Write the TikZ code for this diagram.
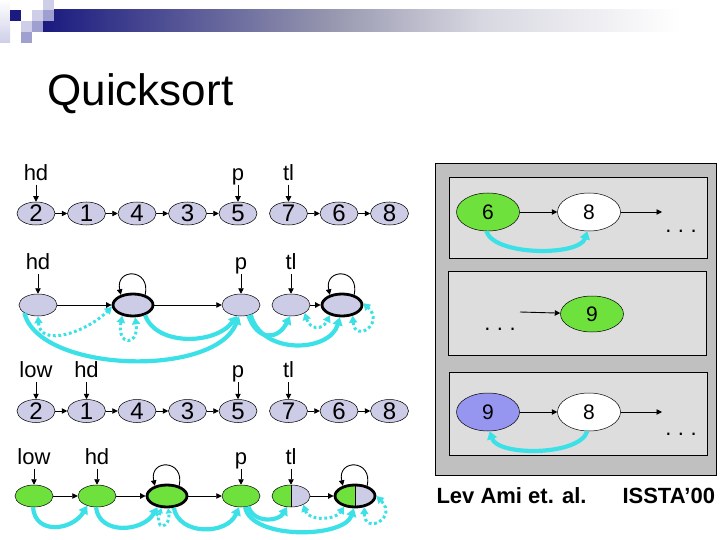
\documentclass[tikz,border=0pt]{standalone}
\usepackage{fontspec}
\setmainfont{Liberation Sans}
\usepackage{tikz}
\usetikzlibrary{shapes.geometric, arrows.meta, positioning}
\definecolor{navyhead}{RGB}{26, 26, 128}
\definecolor{headgray}{RGB}{150, 150, 175}
\definecolor{headpale}{RGB}{215, 215, 225}
\definecolor{squarelight}{RGB}{206, 206, 232}
\definecolor{squaremid}{RGB}{160, 160, 208}
\definecolor{cellblue}{RGB}{204, 204, 230}
\definecolor{cellgreen}{RGB}{110, 225, 60}
\definecolor{sumblue}{RGB}{150, 150, 240}
\definecolor{edgecyan}{RGB}{60, 225, 232}
\definecolor{panelgray}{RGB}{192, 192, 192}
\definecolor{boxgray}{RGB}{221, 221, 221}

\begin{document}
\begin{tikzpicture}[
    x=1pt, y=-1pt,
    every node/.style={font=\fontsize{22}{26}\selectfont},
    cell/.style={
        ellipse,
        draw=black,
        line width=0.5pt,
        fill=cellblue,
        minimum width=38pt,
        minimum height=23pt,
        inner xsep=0pt,
        inner ysep=-3.5pt,
        font=\fontsize{24}{24}\selectfont
    },
    blank/.style={cell, minimum height=22pt},
    summary/.style={blank, line width=2.8pt, minimum width=40pt},
    halfgreen/.style={
        path picture={
            \fill[cellgreen] (path picture bounding box.south west) rectangle (path picture bounding box.north);
            \draw[line width=0.6pt] (path picture bounding box.south) -- (path picture bounding box.north);
        }
    },
    bigcell/.style={
        ellipse,
        draw=black,
        line width=0.5pt,
        fill=white,
        minimum width=63pt,
        minimum height=38pt,
        inner sep=0pt,
        font=\fontsize{21}{21}\selectfont
    },
    ptr/.style={inner sep=1pt, text height=16pt, text depth=3pt},
    dots/.style={inner sep=0pt},
    next/.style={line width=0.9pt, -{Triangle[length=5.5pt, width=5.5pt]}},
    must/.style={draw=edgecyan, line width=4.2pt, -{Triangle[length=8pt, width=10pt]}},
    may/.style={
        draw=edgecyan,
        line width=3pt,
        dash pattern=on 2.8pt off 2.6pt,
        {Triangle[length=7pt, width=8pt]}-{Triangle[length=7pt, width=8pt]}
    },
    tinymay/.style={may, {Triangle[length=5pt, width=6pt]}-{Triangle[length=5pt, width=6pt]}}
]
\useasboundingbox (0,0) rectangle (720,540);

% ==================== HEADER ====================
\shade[left color=navyhead, right color=headgray] (43,10) rectangle (330,32);
\shade[left color=headgray, right color=headpale] (329.5,10) rectangle (480,32);
\shade[left color=headpale, right color=white] (479.5,10) rectangle (680,32);
\shade[top color=white, bottom color=squarelight] (0,0) rectangle (10,43);
\fill[navyhead] (10,10) rectangle (21,21);
\fill[squarelight] (32,10) rectangle (43,21);
\fill[squarelight] (43,0) rectangle (54,10);
\fill[squaremid] (43,10) rectangle (54,21);
\fill[squarelight] (21,21) rectangle (32,32);
\fill[squaremid] (32,21) rectangle (43,32);
\fill[squaremid] (21,32) rectangle (32,43);

\node (title) [anchor=base west, font=\fontsize{44}{44}\selectfont] at (44,106) {Quicksort};

% ==================== ROW 1: CONCRETE LIST ====================
\node (a1) [cell] at (36,213.5) {2};
\node (a2) [cell, right=12pt of a1] {1};
\node (a3) [cell, right=12pt of a2] {4};
\node (a4) [cell, right=12pt of a3] {3};
\node (a5) [cell, right=12pt of a4] {5};
\node (a6) [cell, right=12pt of a5] {7};
\node (a7) [cell, right=12pt of a6] {6};
\node (a8) [cell, right=12pt of a7] {8};

\node (a_hd) [ptr, above=17pt of a1] {hd};
\node (a_p) [ptr, above=17pt of a5] {p};
\node (a_tl) [ptr, above=17pt of a6] {tl};

\draw [next] (a_hd) -- (a1);
\draw [next] (a_p) -- (a5);
\draw [next] (a_tl) -- (a6);
\draw [next] (a1) -- (a2);
\draw [next] (a2) -- (a3);
\draw [next] (a3) -- (a4);
\draw [next] (a4) -- (a5);
\draw [next] (a6) -- (a7);
\draw [next] (a7) -- (a8);

% ==================== ROW 2: SHAPE GRAPH ====================
\node (b1) [blank] at (38,305) {};
\node (b2) [summary] at (133,305) {};
\node (b3) [blank] at (241,305) {};
\node (b4) [blank] at (291,305) {};
\node (b5) [summary] at (342,305) {};

\node (b_hd) [ptr, above=20pt of b1] {hd};
\node (b_p) [ptr, above=20pt of b3] {p};
\node (b_tl) [ptr, above=20pt of b4] {tl};

\draw [next] (b_hd) -- (b1);
\draw [next] (b_p) -- (b3);
\draw [next] (b_tl) -- (b4);
\draw [next] (b1) -- (b2);
\draw [next] (b2) -- (b3);
\draw [next] (b4) -- (b5);
\draw [next] (b2.40) .. controls +(6,-27) and +(-6,-27) .. (b2.140);
\draw [next] (b5.40) .. controls +(6,-27) and +(-6,-27) .. (b5.140);

\draw [must] (b1.-150) .. controls +(15,60) and +(-24,62) .. (b3.-100);
\draw [must] (b2.-40) .. controls +(11,31) and +(-22,29) .. (b3.-110);
\draw [must] (b3.-55) .. controls +(9,26) and +(-12,24) .. (b4.-95);
\draw [must] (b3.-45) .. controls +(11,41) and +(-10,35) .. (b5.-100);
\draw [may] (b1.-90) .. controls +(2,32) and +(-25,25) .. (b2.185);
\draw [may] (b2.-135) .. controls +(-6,30) and +(4,30) .. (b2.-80);
\draw [may] (b4.-30) .. controls +(5,16) and +(-8,16) .. (b5.-140);
\draw [may] (b5.-45) .. controls +(2,28) and +(22,20) .. (b5.5);

% ==================== ROW 3: CONCRETE LIST ====================
\node (c1) [cell] at (36,411) {2};
\node (c2) [cell, right=12pt of c1] {1};
\node (c3) [cell, right=12pt of c2] {4};
\node (c4) [cell, right=12pt of c3] {3};
\node (c5) [cell, right=12pt of c4] {5};
\node (c6) [cell, right=12pt of c5] {7};
\node (c7) [cell, right=12pt of c6] {6};
\node (c8) [cell, right=12pt of c7] {8};

\node (c_low) [ptr, above=17.5pt of c1] {low};
\node (c_hd) [ptr, above=17.5pt of c2] {hd};
\node (c_p) [ptr, above=17.5pt of c5] {p};
\node (c_tl) [ptr, above=17.5pt of c6] {tl};

\draw [next] (c_low) -- (c1);
\draw [next] (c_hd) -- (c2);
\draw [next] (c_p) -- (c5);
\draw [next] (c_tl) -- (c6);
\draw [next] (c1) -- (c2);
\draw [next] (c2) -- (c3);
\draw [next] (c3) -- (c4);
\draw [next] (c4) -- (c5);
\draw [next] (c6) -- (c7);
\draw [next] (c7) -- (c8);

% ==================== ROW 4: SHAPE GRAPH ====================
\node (d1) [blank, fill=cellgreen] at (34,496) {};
\node (d2) [blank, fill=cellgreen] at (97,496) {};
\node (d3) [summary, fill=cellgreen] at (167,496) {};
\node (d4) [blank, fill=cellgreen] at (241,496) {};
\node (d5) [blank, halfgreen] at (291,496) {};
\node (d6) [summary, halfgreen] at (355,496) {};

\node (d_low) [ptr, above=16pt of d1] {low};
\node (d_hd) [ptr, above=16pt of d2] {hd};
\node (d_p) [ptr, above=16pt of d4] {p};
\node (d_tl) [ptr, above=16pt of d5] {tl};

\draw [next] (d_low) -- (d1);
\draw [next] (d_hd) -- (d2);
\draw [next] (d_p) -- (d4);
\draw [next] (d_tl) -- (d5);
\draw [next] (d1) -- (d2);
\draw [next] (d2) -- (d3);
\draw [next] (d3) -- (d4);
\draw [next] (d5) -- (d6);
\draw [next] (d3.40) .. controls +(6,-27) and +(-6,-27) .. (d3.140);
\draw [next] (d6.40) .. controls +(6,-27) and +(-6,-27) .. (d6.140);

\draw [must] (d1.-95) .. controls +(2,28) and +(-15,25) .. (d2.-135);
\draw [must] (d2.-95) .. controls +(3,28) and +(-15,25) .. (d3.-130);
\draw [must] (d3.-60) .. controls +(5,28) and +(-12,28) .. (d4.-100);
\draw [must] (d4.-55) .. controls +(6,18) and +(-8,14) .. (d5.-110);
\draw [must] (d4.-70) .. controls +(6,33) and +(-10,30) .. (d6.-95);
\draw [tinymay] (d3.-115) .. controls +(-8,24) and +(3,20) .. (d3.-85);
\draw [may] (d5.-35) .. controls +(5,16) and +(-10,14) .. (d6.-135);
\draw [may] (d6.-50) .. controls +(0,28) and +(22,22) .. (d6.0);

% ==================== RIGHT: SUMMARY PANEL ====================
\draw [fill=panelgray, line width=0.6pt] (435,163) rectangle (716,475);
\draw [fill=boxgray, line width=0.5pt] (449,177) rectangle (707,258);
\draw [fill=boxgray, line width=0.5pt] (448,271) rectangle (706,355);
\draw [fill=boxgray, line width=0.5pt] (449,372) rectangle (707,455);

\node (e6) [bigcell, fill=cellgreen] at (488,212) {6};
\node (e8) [bigcell] at (589,212) {8};
\coordinate (e_out) at (662,212);
\node (e_dots) [dots] at (681,231) {.\hspace{6.5pt}.\hspace{6.5pt}.};
\draw [next] (e6) -- (e8);
\draw [next] (e8) -- (e_out);
\draw [must] (e6.-95) .. controls +(8,25) and +(-8,25) .. (e8.-95);

\node (f_dots) [dots] at (500,329) {.\hspace{6.5pt}.\hspace{6.5pt}.};
\coordinate (f_in) at (520,312);
\node (f9) [bigcell, fill=cellgreen, minimum height=36pt] at (592,314) {9};
\draw [next] (f_in) -- (f9);

\node (g9) [bigcell, fill=sumblue] at (488,412) {9};
\node (g8) [bigcell] at (589,412) {8};
\coordinate (g_out) at (662,412);
\node (g_dots) [dots] at (681,434) {.\hspace{6.5pt}.\hspace{6.5pt}.};
\draw [next] (g9) -- (g8);
\draw [next] (g8) -- (g_out);
\draw [must] (g8.-95) .. controls +(-8,25) and +(8,25) .. (g9.-85);

\node (cite) [anchor=base west, font=\bfseries\fontsize{22}{22}\selectfont] at (433,503) {Lev Ami et. al.\hspace{36pt}ISSTA’00};

\end{tikzpicture}
\end{document}
